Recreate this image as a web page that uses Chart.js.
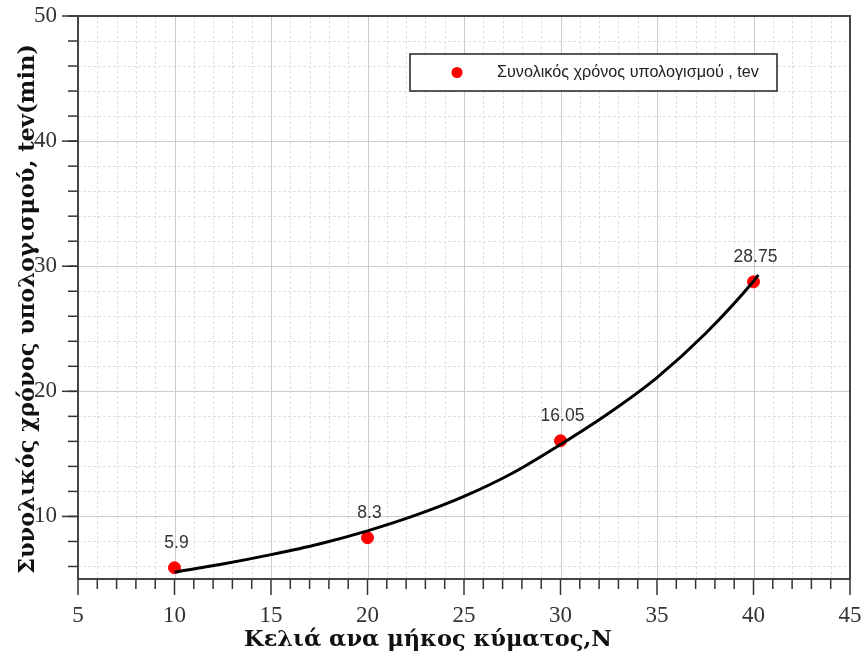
<!DOCTYPE html>
<html lang="el">
<head>
    <meta charset="UTF-8">
    <title>Συνολικός χρόνος υπολογισμού</title>
    <script src="https://cdn.jsdelivr.net/npm/chart.js@4.4.0/dist/chart.umd.min.js"></script>
    <style>
        html, body {
            margin: 0;
            padding: 0;
            background: #ffffff;
        }
        .chart-container {
            width: 863px;
            height: 655px;
        }
    </style>
</head>
<body>

<div class="chart-container">
    <canvas id="tevChart"></canvas>
</div>

<script>
    // measured points
    const cellsPerWave = [10, 20, 30, 40];
    const totalTime = [5.9, 8.3, 16.05, 28.75];

    // trend curve
    const fitCells = [10, 12.5, 15, 17.5, 20, 22.5, 25, 27.5, 30, 32.5, 35, 37.5, 40, 40.25];
    const fitTime = [5.55, 6.2, 6.95, 7.8, 8.85, 10.1, 11.6, 13.45, 15.75, 18.25, 21.1, 24.6, 28.8, 29.3];

    // tick labels
    const xTickValues = [5, 10, 15, 20, 25, 30, 35, 40, 45];
    const yTickValues = [10, 20, 30, 40, 50];

    const legendLabel = 'Συνολικός χρόνος υπολογισμού , tev';
    const xTitle = 'Κελιά ανα μήκος κύματος,N';
    const yTitle = 'Συνολικός χρόνος υπολογισμού, tev(min)';

    const serif = '"Liberation Serif", serif';

    function strokeLine(ctx, x1, y1, x2, y2) {
        ctx.beginPath();
        ctx.moveTo(x1, y1);
        ctx.lineTo(x2, y2);
        ctx.stroke();
    }

    // grid, tick marks and frame, drawn from the scales
    const framePlugin = {
        id: 'frame',
        beforeDatasetsDraw(chart) {
            const { ctx, chartArea: a, scales: { x, y } } = chart;
            ctx.save();
            ctx.lineWidth = 1;

            // minor grid (dashed)
            ctx.setLineDash([3, 2]);
            ctx.strokeStyle = '#e0e0e0';
            for (let v = x.min + 1; v < x.max; v++) {
                if (v % 5 === 0) continue;
                const px = Math.round(x.getPixelForValue(v)) + 0.5;
                strokeLine(ctx, px, a.top, px, a.bottom);
            }
            for (let v = y.min + 1; v < y.max; v += 2) {
                if (v % 10 === 0) continue;
                const py = Math.round(y.getPixelForValue(v)) + 0.5;
                strokeLine(ctx, a.left, py, a.right, py);
            }

            // major grid (solid)
            ctx.setLineDash([]);
            ctx.strokeStyle = '#cccccc';
            xTickValues.forEach(v => {
                const px = Math.round(x.getPixelForValue(v)) + 0.5;
                strokeLine(ctx, px, a.top, px, a.bottom);
            });
            yTickValues.forEach(v => {
                const py = Math.round(y.getPixelForValue(v)) + 0.5;
                strokeLine(ctx, a.left, py, a.right, py);
            });

            // tick marks
            ctx.strokeStyle = '#333333';
            ctx.lineWidth = 1.5;
            for (let v = x.min; v <= x.max; v++) {
                const px = x.getPixelForValue(v);
                const len = v % 5 === 0 ? 16 : 10;
                strokeLine(ctx, px, a.bottom, px, a.bottom + len);
            }
            for (let v = y.min + 1; v <= y.max; v += 2) {
                const py = y.getPixelForValue(v);
                strokeLine(ctx, a.left - 10, py, a.left, py);
            }
            yTickValues.forEach(v => {
                const py = y.getPixelForValue(v);
                strokeLine(ctx, a.left - 16, py, a.left, py);
            });

            // frame
            ctx.lineWidth = 2;
            ctx.strokeStyle = '#444444';
            ctx.strokeRect(a.left, a.top, a.right - a.left, a.bottom - a.top);
            ctx.restore();
        },
        afterDraw(chart) {
            const { ctx } = chart;
            ctx.save();
            ctx.fillStyle = '#111111';
            ctx.font = 'bold 22.5px "DejaVu Serif", serif';
            ctx.textAlign = 'center';
            ctx.textBaseline = 'middle';
            ctx.fillText(xTitle, 428, 640);
            ctx.translate(28, 309);
            ctx.rotate(-Math.PI / 2);
            ctx.fillText(yTitle, 0, 0);
            ctx.restore();
        }
    };

    // value labels above the red points
    const valueLabels = {
        id: 'valueLabels',
        afterDatasetsDraw(chart) {
            const { ctx } = chart;
            const meta = chart.getDatasetMeta(1);
            ctx.save();
            ctx.font = '17.5px "Liberation Sans", Arial, sans-serif';
            ctx.fillStyle = '#333333';
            ctx.textAlign = 'center';
            ctx.textBaseline = 'middle';
            meta.data.forEach((pt, i) => {
                ctx.fillText(String(totalTime[i]), pt.x + 2, pt.y - 25);
            });
            ctx.restore();
        }
    };

    // legend box inside the plot
    const boxLegend = {
        id: 'boxLegend',
        afterDatasetsDraw(chart) {
            const { ctx } = chart;
            ctx.save();
            ctx.fillStyle = '#ffffff';
            ctx.fillRect(410, 54, 367, 37);
            ctx.strokeStyle = '#222222';
            ctx.lineWidth = 1.5;
            ctx.strokeRect(410, 54, 367, 37);
            ctx.fillStyle = '#ff0000';
            ctx.beginPath();
            ctx.arc(457, 72.5, 5.5, 0, Math.PI * 2);
            ctx.fill();
            ctx.fillStyle = '#222222';
            ctx.font = '16.2px "Liberation Sans", Arial, sans-serif';
            ctx.textAlign = 'left';
            ctx.textBaseline = 'middle';
            ctx.fillText(legendLabel, 497, 73);
            ctx.restore();
        }
    };

    const ctx = document.getElementById('tevChart').getContext('2d');
    new Chart(ctx, {
        type: 'scatter',
        data: {
            datasets: [{
                type: 'line',
                label: 'fit',
                data: fitCells.map((n, i) => ({ x: n, y: fitTime[i] })),
                borderColor: '#000000',
                borderWidth: 3,
                pointRadius: 0,
                fill: false,
                cubicInterpolationMode: 'monotone',
                order: 0
            }, {
                label: legendLabel,
                data: cellsPerWave.map((n, i) => ({ x: n, y: totalTime[i] })),
                backgroundColor: '#ff0000',
                borderColor: '#ff0000',
                pointRadius: 6,
                pointHoverRadius: 6,
                order: 1
            }]
        },
        options: {
            responsive: true,
            maintainAspectRatio: false,
            animation: false,
            layout: {
                padding: { top: 16, right: 13, left: 0, bottom: 0 }
            },
            plugins: {
                legend: { display: false },
                tooltip: { enabled: false }
            },
            scales: {
                x: {
                    type: 'linear',
                    min: 5,
                    max: 45,
                    afterBuildTicks: s => { s.ticks = xTickValues.map(v => ({ value: v })); },
                    afterFit: s => { s.height = 76; s.paddingLeft = 0; s.paddingRight = 0; },
                    grid: { drawOnChartArea: false, color: 'rgba(0,0,0,0)', tickLength: 16 },
                    border: { display: false },
                    ticks: {
                        color: '#333333',
                        padding: 7,
                        maxRotation: 0,
                        font: { family: serif, size: 23 }
                    }
                },
                y: {
                    type: 'linear',
                    min: 5,
                    max: 50,
                    afterBuildTicks: s => { s.ticks = yTickValues.map(v => ({ value: v })); },
                    afterFit: s => { s.width = 78; s.paddingTop = 0; s.paddingBottom = 0; },
                    grid: { drawOnChartArea: false, color: 'rgba(0,0,0,0)', tickLength: 16 },
                    border: { display: false },
                    ticks: {
                        color: '#333333',
                        padding: 5,
                        font: { family: serif, size: 23 }
                    }
                }
            }
        },
        plugins: [framePlugin, valueLabels, boxLegend]
    });
</script>

</body>
</html>
